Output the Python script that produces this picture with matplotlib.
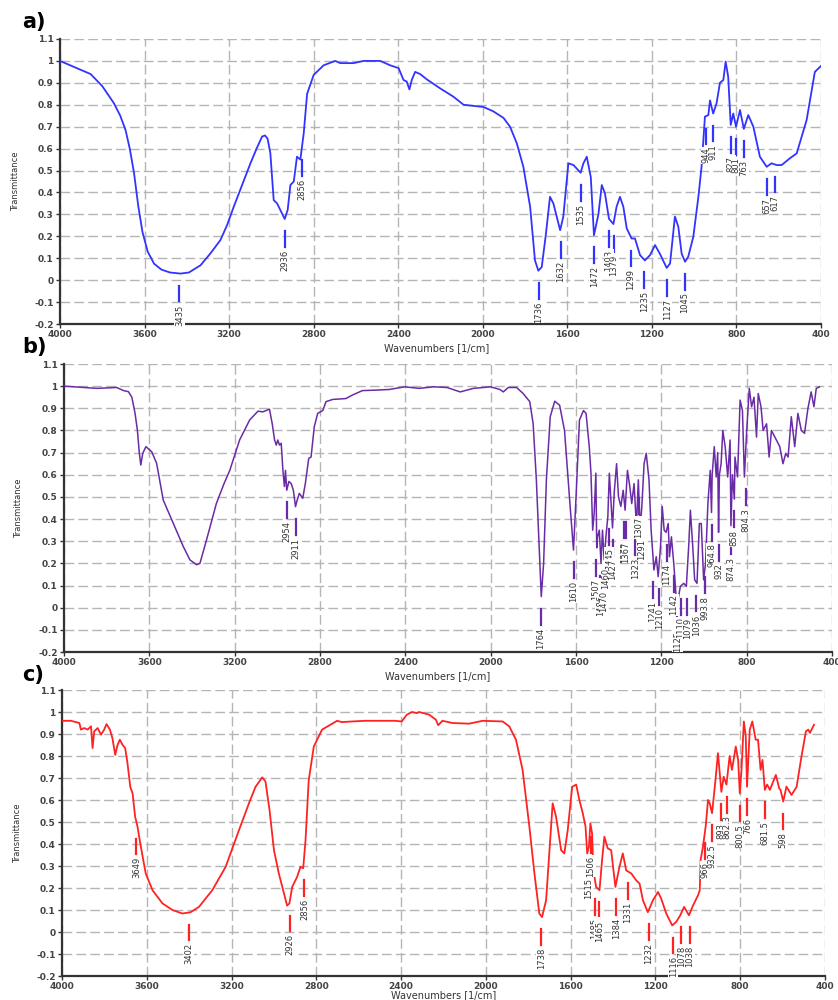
import numpy as np
import matplotlib.pyplot as plt

# ---- a) ----
wn_a = [4000, 3855, 3800, 3745, 3715, 3690, 3670, 3650, 3630, 3610, 3585, 3555, 3520, 3480,
        3430, 3390, 3335, 3290, 3241, 3210, 3178, 3140, 3099, 3070, 3044, 3030, 3018, 3005,
        2989, 2973, 2937, 2923, 2910, 2894, 2879, 2863, 2847, 2831, 2800, 2753, 2698, 2674,
        2611, 2564, 2485, 2438, 2398, 2375, 2360, 2347, 2336, 2320, 2296, 2265, 2202, 2139,
        2091, 2044, 1997, 1950, 1902, 1871, 1839, 1808, 1776, 1753, 1737, 1721, 1701, 1682,
        1666, 1634, 1619, 1595, 1571, 1537, 1524, 1508, 1489, 1474, 1453, 1437, 1422, 1403,
        1382, 1367, 1351, 1335, 1319, 1296, 1280, 1256, 1233, 1209, 1185, 1162, 1130, 1114,
        1091, 1075, 1059, 1043, 1028, 1004, 980, 965, 949, 933, 925, 910, 894, 878, 862, 851,
        839, 827, 815, 802, 783, 765, 744, 720, 689, 657, 634, 610, 586, 547, 515, 468, 429, 400]
tr_a = [1.0, 0.94, 0.885, 0.807, 0.75, 0.685, 0.60, 0.49, 0.34, 0.22, 0.13, 0.075, 0.048, 0.035,
        0.03, 0.035, 0.068, 0.12, 0.183, 0.25, 0.335, 0.43, 0.533, 0.60, 0.655, 0.66, 0.645, 0.58,
        0.365, 0.35, 0.279, 0.32, 0.434, 0.45, 0.563, 0.55, 0.67, 0.85, 0.936, 0.98, 1.0, 0.99,
        0.99, 1.0, 1.0, 0.98, 0.967, 0.913, 0.906, 0.87, 0.913, 0.95, 0.94, 0.916, 0.875, 0.837,
        0.80, 0.795, 0.79, 0.77, 0.74, 0.70, 0.624, 0.517, 0.335, 0.09, 0.043, 0.06, 0.213, 0.38,
        0.35, 0.228, 0.29, 0.533, 0.525, 0.49, 0.533, 0.563, 0.47, 0.205, 0.30, 0.434, 0.396, 0.28,
        0.256, 0.335, 0.38, 0.335, 0.236, 0.19, 0.19, 0.114, 0.09, 0.114, 0.16, 0.12, 0.056, 0.076,
        0.29, 0.244, 0.12, 0.084, 0.107, 0.198, 0.38, 0.517, 0.746, 0.753, 0.82, 0.76, 0.807, 0.90,
        0.913, 0.997, 0.928, 0.708, 0.76, 0.70, 0.776, 0.69, 0.753, 0.70, 0.563, 0.517, 0.533,
        0.525, 0.525, 0.556, 0.578, 0.73, 0.95, 0.977]
peaks_a = [3435, 2936, 2856, 1736, 1632, 1535, 1472, 1403, 1379, 1299, 1235, 1127, 1045,
           944, 911, 827, 801, 763, 657, 617]
labels_a = ["3435", "2936", "2856", "1736", "1632", "1535", "1472", "1403", "1379", "1299",
            "1235", "1127", "1045", "944", "911", "827", "801", "763", "657", "617"]

# ---- b) ----
wn_b = [4000, 3908, 3846, 3753, 3721, 3698, 3682, 3667, 3656, 3647, 3640, 3631, 3616, 3589,
        3566, 3535, 3510, 3488, 3441, 3410, 3379, 3363, 3332, 3286, 3250, 3223, 3177, 3130,
        3091, 3068, 3052, 3037, 3024, 3013, 3005, 2998, 2990, 2982, 2974, 2967, 2962, 2956,
        2946, 2935, 2925, 2915, 2907, 2897, 2881, 2869, 2853, 2842, 2827, 2811, 2787, 2772,
        2741, 2679, 2648, 2601, 2539, 2476, 2445, 2402, 2336, 2267, 2205, 2143, 2081, 2000,
        1957, 1941, 1918, 1879, 1848, 1817, 1801, 1786, 1773, 1763, 1752, 1739, 1721, 1700,
        1677, 1654, 1631, 1612, 1600, 1584, 1565, 1553, 1538, 1530, 1522, 1515, 1507, 1503,
        1499, 1491, 1483, 1476, 1468, 1460, 1451, 1444, 1437, 1429, 1421, 1410, 1401, 1390,
        1379, 1370, 1359, 1348, 1339, 1328, 1317, 1308, 1300, 1292, 1281, 1271, 1258, 1248,
        1235, 1224, 1215, 1204, 1196, 1187, 1178, 1168, 1162, 1153, 1142, 1131, 1122, 1111,
        1095, 1083, 1072, 1064, 1053, 1044, 1033, 1022, 1013, 1002, 993, 982, 971, 965, 962,
        952, 943, 936, 932, 928, 920, 912, 901, 889, 878, 874, 867, 858, 855, 843, 831, 820,
        811, 800, 788, 777, 766, 754, 746, 733, 723, 707, 695, 684, 668, 645, 630, 617, 606,
        591, 575, 560, 544, 529, 513, 498, 485, 474, 459]
tr_b = [1.0, 0.994, 0.99, 0.994, 0.98, 0.975, 0.95, 0.877, 0.80, 0.697, 0.644, 0.697, 0.727, 0.704,
        0.652, 0.486, 0.43, 0.38, 0.276, 0.216, 0.194, 0.20, 0.306, 0.47, 0.56, 0.62, 0.757, 0.847,
        0.887, 0.884, 0.89, 0.896, 0.83, 0.757, 0.734, 0.757, 0.734, 0.742, 0.62, 0.547, 0.62, 0.53,
        0.57, 0.56, 0.53, 0.456, 0.486, 0.516, 0.494, 0.56, 0.674, 0.68, 0.817, 0.877, 0.89, 0.93,
        0.94, 0.944, 0.96, 0.98, 0.982, 0.985, 0.99, 0.997, 0.99, 0.997, 0.994, 0.974, 0.99, 0.997,
        0.985, 0.974, 0.994, 0.994, 0.967, 0.93, 0.83, 0.577, 0.277, 0.05, 0.20, 0.577, 0.862, 0.932,
        0.914, 0.80, 0.50, 0.26, 0.50, 0.847, 0.89, 0.877, 0.727, 0.607, 0.35, 0.427, 0.607, 0.27,
        0.32, 0.35, 0.20, 0.35, 0.216, 0.32, 0.41, 0.607, 0.49, 0.36, 0.52, 0.65, 0.50, 0.457,
        0.53, 0.44, 0.62, 0.547, 0.47, 0.56, 0.366, 0.577, 0.36, 0.45, 0.65, 0.697, 0.577, 0.35,
        0.17, 0.23, 0.14, 0.277, 0.457, 0.35, 0.34, 0.38, 0.23, 0.32, 0.20, 0.05, 0.036, 0.096,
        0.11, 0.096, 0.277, 0.44, 0.277, 0.126, 0.11, 0.38, 0.38, 0.126, 0.20, 0.47, 0.62, 0.43, 0.60,
        0.727, 0.59, 0.70, 0.34, 0.60, 0.65, 0.80, 0.727, 0.59, 0.757, 0.37, 0.60, 0.49, 0.68, 0.59,
        0.937, 0.89, 0.59, 0.80, 0.99, 0.907, 0.95, 0.77, 0.967, 0.907, 0.80, 0.83, 0.68, 0.80,
        0.77, 0.727, 0.65, 0.697, 0.68, 0.862, 0.727, 0.877, 0.80, 0.787, 0.90, 0.974, 0.907, 0.99,
        0.997]
peaks_b = [2954, 2911, 1764, 1610, 1507, 1486, 1470, 1460, 1445, 1427, 1373, 1367, 1323,
           1307, 1291, 1241, 1210, 1174, 1142, 1125, 1110, 1079, 1036, 993.8, 964.8, 932, 874.3,
           858, 804.3]
labels_b = ["2954", "2911", "1764", "1610", "1507", "1486", "1470", "1460", "1445",
            "1427", "1373", "1367", "1323", "1307", "1291", "1241", "1210", "1174", "1142",
            "1125", "1110", "1079", "1036", "993.8", "964.8", "932", "874.3", "858", "804.3"]

# ---- c) ----
wn_c = [4000, 3958, 3918, 3911, 3895, 3879, 3863, 3856, 3848, 3832, 3816, 3801, 3790, 3774,
        3762, 3749, 3738, 3727, 3714, 3702, 3691, 3678, 3667, 3655, 3644, 3628, 3605, 3573,
        3526, 3479, 3432, 3393, 3354, 3291, 3228, 3165, 3118, 3087, 3055, 3040, 3021, 3000,
        2977, 2953, 2938, 2927, 2914, 2891, 2875, 2862, 2851, 2836, 2812, 2773, 2734, 2702,
        2679, 2632, 2569, 2491, 2428, 2397, 2373, 2349, 2326, 2315, 2268, 2236, 2225, 2205,
        2158, 2079, 2016, 1921, 1890, 1858, 1827, 1795, 1771, 1748, 1735, 1716, 1701, 1685,
        1669, 1645, 1630, 1614, 1593, 1574, 1559, 1543, 1530, 1522, 1514, 1507, 1499, 1493,
        1480, 1464, 1452, 1441, 1425, 1409, 1389, 1370, 1354, 1338, 1314, 1291, 1275, 1259,
        1236, 1212, 1188, 1173, 1149, 1121, 1102, 1083, 1065, 1042, 1023, 999, 991, 987, 976,
        963, 952, 944, 933, 920, 905, 889, 878, 865, 850, 839, 821, 810, 802, 794, 783, 774,
        768, 755, 743, 727, 716, 704, 695, 684, 673, 660, 632, 616, 610, 597, 582, 558, 534,
        511, 490, 479, 471, 452]
tr_c = [0.96, 0.96, 0.95, 0.92, 0.927, 0.92, 0.935, 0.836, 0.912, 0.927, 0.897, 0.92, 0.945, 0.92,
        0.88, 0.805, 0.85, 0.874, 0.85, 0.836, 0.767, 0.66, 0.63, 0.524, 0.48, 0.387, 0.266, 0.19,
        0.13, 0.10, 0.084, 0.09, 0.114, 0.19, 0.296, 0.463, 0.585, 0.66, 0.703, 0.684, 0.555, 0.372,
        0.266, 0.175, 0.12, 0.13, 0.205, 0.25, 0.296, 0.29, 0.418, 0.69, 0.843, 0.92, 0.942, 0.96,
        0.954, 0.957, 0.96, 0.96, 0.96, 0.957, 0.988, 1.0, 0.995, 1.0, 0.988, 0.965, 0.94, 0.96,
        0.95, 0.947, 0.96, 0.957, 0.935, 0.874, 0.737, 0.48, 0.266, 0.084, 0.068, 0.144, 0.357, 0.585,
        0.524, 0.372, 0.357, 0.463, 0.66, 0.67, 0.60, 0.54, 0.48, 0.357, 0.387, 0.494, 0.448, 0.28,
        0.205, 0.19, 0.326, 0.433, 0.38, 0.372, 0.205, 0.296, 0.357, 0.28, 0.266, 0.235, 0.22, 0.144,
        0.09, 0.144, 0.182, 0.152, 0.084, 0.03, 0.046, 0.076, 0.114, 0.076, 0.12, 0.167, 0.19, 0.327,
        0.387, 0.48, 0.60, 0.585, 0.54, 0.66, 0.813, 0.637, 0.706, 0.67, 0.80, 0.737, 0.843, 0.782,
        0.63, 0.737, 0.957, 0.89, 0.66, 0.92, 0.957, 0.874, 0.874, 0.737, 0.782, 0.646, 0.67, 0.646,
        0.714, 0.653, 0.646, 0.593, 0.661, 0.623, 0.66, 0.798, 0.912, 0.92, 0.905, 0.942]
peaks_c = [3649, 3402, 2926, 2856, 1738, 1515, 1506, 1485, 1465, 1384, 1331, 1232, 1116, 1078,
           1038, 966, 932.5, 893, 862.3, 800.5, 766, 681.5, 598]
labels_c = ["3649", "3402", "2926", "2856", "1738", "1515", "1506", "1485", "1465", "1384",
            "1331", "1232", "1116", "1078", "1038", "966", "932.5", "893", "862.3", "800.5",
            "766", "681.5", "598"]

xticks = [4000, 3600, 3200, 2800, 2400, 2000, 1600, 1200, 800, 400]
yticks = [-0.2, -0.1, 0, 0.1, 0.2, 0.3, 0.4, 0.5, 0.6, 0.7, 0.8, 0.9, 1.0, 1.1]
ytick_labels = ["-0.2", "-0.1", "0", "0.1", "0.2", "0.3", "0.4", "0.5", "0.6", "0.7", "0.8",
                "0.9", "1", "1.1"]


def style_axes(ax, xl_pos):
    ax.set_xlim(4000, 400)
    ax.set_ylim(-0.2, 1.1)
    ax.set_xticks(xticks)
    ax.set_yticks(yticks)
    ax.set_yticklabels(ytick_labels)
    ax.grid(True, color="#b5b5b5", linestyle=(0, (7, 3)), linewidth=1)
    ax.set_axisbelow(True)
    for s in ["top", "right"]:
        ax.spines[s].set_visible(False)
    for s in ["left", "bottom"]:
        ax.spines[s].set_color("#333333")
        ax.spines[s].set_linewidth(1.6)
    ax.tick_params(length=3, width=1, color="#333333", pad=1.5, labelsize=6.5,
                   labelcolor="#444444")
    for t in ax.get_xticklabels() + ax.get_yticklabels():
        t.set_fontweight("bold")
    ax.set_xlabel("Wavenumbers [1/cm]", fontsize=7, color="#333333")
    ax.xaxis.set_label_coords(xl_pos[0], xl_pos[1])
    ax.set_ylabel("Transmittance", fontsize=6, color="#333333")
    ax.yaxis.set_label_coords(-0.053, 0.5)


def mark_peaks(ax, wn, tr, peaks, labels, color):
    w = np.array(wn, dtype=float)[::-1]
    t = np.array(tr, dtype=float)[::-1]
    for p, lab in zip(peaks, labels):
        near = t[(w > p - 7) & (w < p + 7)]
        ymin = np.interp(p, w, t)
        if near.size:
            ymin = min(ymin, near.min())
        top = ymin - 0.055
        ax.plot([p, p], [top, top - 0.072], color=color, lw=1.6, zorder=4, clip_on=False)
        ax.text(p, top - 0.085, lab, rotation=90, ha="center", va="top", fontsize=6,
                color="#333333", zorder=5, clip_on=False,
                bbox=dict(boxstyle="square,pad=0.08", fc="white", ec="none"))


fig = plt.figure(figsize=(8.38, 10), dpi=100)
ax_a = fig.add_axes([0.0716, 0.676, 0.9081, 0.285])
ax_b = fig.add_axes([0.0764, 0.348, 0.9165, 0.288])
ax_c = fig.add_axes([0.0740, 0.024, 0.9105, 0.286])

panels = [
    (ax_a, wn_a, tr_a, peaks_a, labels_a, "#3333ff", 1.3, (0.495, -0.068), "a)", 0.978),
    (ax_b, wn_b, tr_b, peaks_b, labels_b, "#6a2ca6", 1.1, (0.486, -0.066), "b)", 0.653),
    (ax_c, wn_c, tr_c, peaks_c, labels_c, "#ff2222", 1.3, (0.500, -0.048), "c)", 0.325),
]

for ax, wn, tr, peaks, labels, color, lw, xl_pos, tag, ty in panels:
    style_axes(ax, xl_pos)
    ax.plot(wn, tr, color=color, lw=lw, zorder=3)
    mark_peaks(ax, wn, tr, peaks, labels, color)
    fig.text(0.026, ty, tag, fontsize=15, fontweight="bold", va="center", ha="left")

plt.savefig("out.png", dpi=100)
